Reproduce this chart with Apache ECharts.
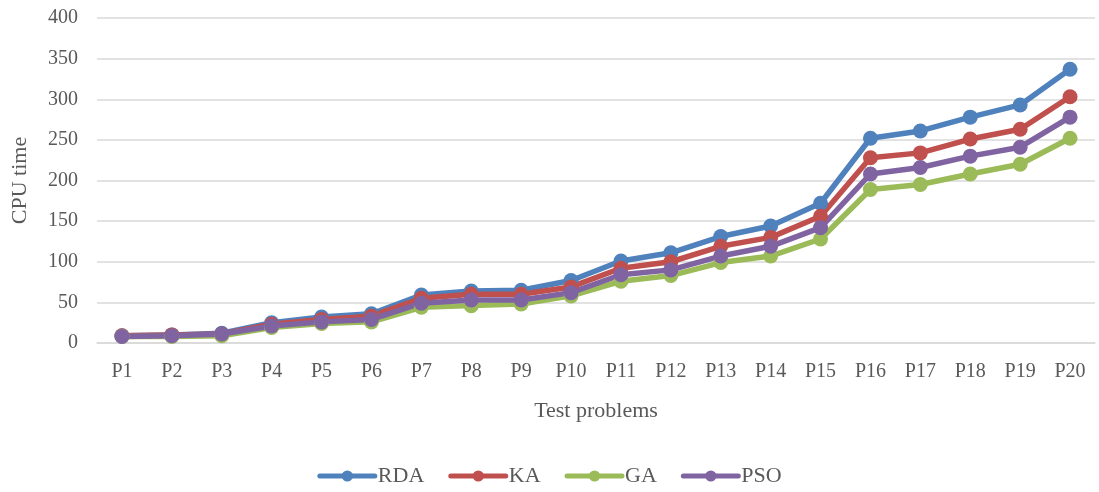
<!DOCTYPE html>
<html>
<head>
<meta charset="utf-8">
<script src="https://cdn.jsdelivr.net/npm/echarts@6/dist/echarts.min.js"></script>
<style>
  html, body { margin: 0; padding: 0; background: #fff; }
  #chart { width: 1099px; height: 492px; }
</style>
</head>
<body>
<div id="chart"></div>
<script>
// Test problems on the category axis
const problems = ['P1','P2','P3','P4','P5','P6','P7','P8','P9','P10',
                  'P11','P12','P13','P14','P15','P16','P17','P18','P19','P20'];

// CPU time per algorithm
const rda = [9, 10, 12, 25, 32, 36, 59, 64, 65, 77, 101, 111, 131, 144, 172, 252, 261, 278, 293, 337];
const ka  = [9, 10, 11, 23, 29, 33, 55, 60, 60, 69,  92, 100, 119, 130, 156, 228, 234, 251, 263, 303];
const ga  = [8,  8,  9, 19, 24, 26, 44, 46, 48, 58,  76,  83,  99, 107, 128, 189, 195, 208, 220, 252];
const pso = [8,  9, 11, 21, 26, 29, 49, 53, 53, 62,  84,  90, 107, 119, 142, 208, 216, 230, 241, 278];

const yTicks = { min: 0, max: 400, interval: 50 };

const textColor = '#595959';
const font = 'Liberation Serif';

function lineSeries(name, data, color) {
  return {
    name: name,
    type: 'line',
    data: data,
    symbol: 'circle',
    symbolSize: 15,
    lineStyle: { width: 5.5, color: color, cap: 'round', join: 'round' },
    itemStyle: { color: color },
    emphasis: { disabled: true }
  };
}

const chart = echarts.init(document.getElementById('chart'));
chart.setOption({
  animation: false,
  textStyle: { fontFamily: font, color: textColor },
  grid: { left: 97, right: 4, top: 18, bottom: 149 },
  legend: {
    bottom: 0,
    left: 'center',
    itemWidth: 55,
    itemHeight: 14,
    itemGap: 24,
    lineStyle: { width: 5, cap: 'round' },
    textStyle: { fontFamily: font, fontSize: 22, color: textColor, padding: [0, 0, 0, -2] },
    data: ['RDA', 'KA', 'GA', 'PSO']
  },
  xAxis: {
    type: 'category',
    data: problems,
    boundaryGap: true,
    name: 'Test problems',
    nameLocation: 'middle',
    nameGap: 57,
    nameTextStyle: { fontFamily: font, fontSize: 22, color: textColor },
    axisLine: { lineStyle: { color: '#d9d9d9', width: 1.5 } },
    axisTick: { show: false },
    axisLabel: { fontFamily: font, fontSize: 20, color: textColor, margin: 19 }
  },
  yAxis: {
    type: 'value',
    min: yTicks.min,
    max: yTicks.max,
    interval: yTicks.interval,
    name: 'CPU time',
    nameLocation: 'middle',
    nameGap: 66,
    nameRotate: 90,
    nameTextStyle: { fontFamily: font, fontSize: 22, color: textColor },
    axisLine: { show: false },
    axisTick: { show: false },
    axisLabel: { fontFamily: font, fontSize: 20, color: textColor, margin: 19 },
    splitLine: { lineStyle: { color: '#d9d9d9', width: 1.5 } }
  },
  series: [
    lineSeries('RDA', rda, '#4F81BD'),
    lineSeries('KA',  ka,  '#C0504D'),
    lineSeries('GA',  ga,  '#9BBB59'),
    lineSeries('PSO', pso, '#8064A2')
  ]
});
</script>
</body>
</html>
